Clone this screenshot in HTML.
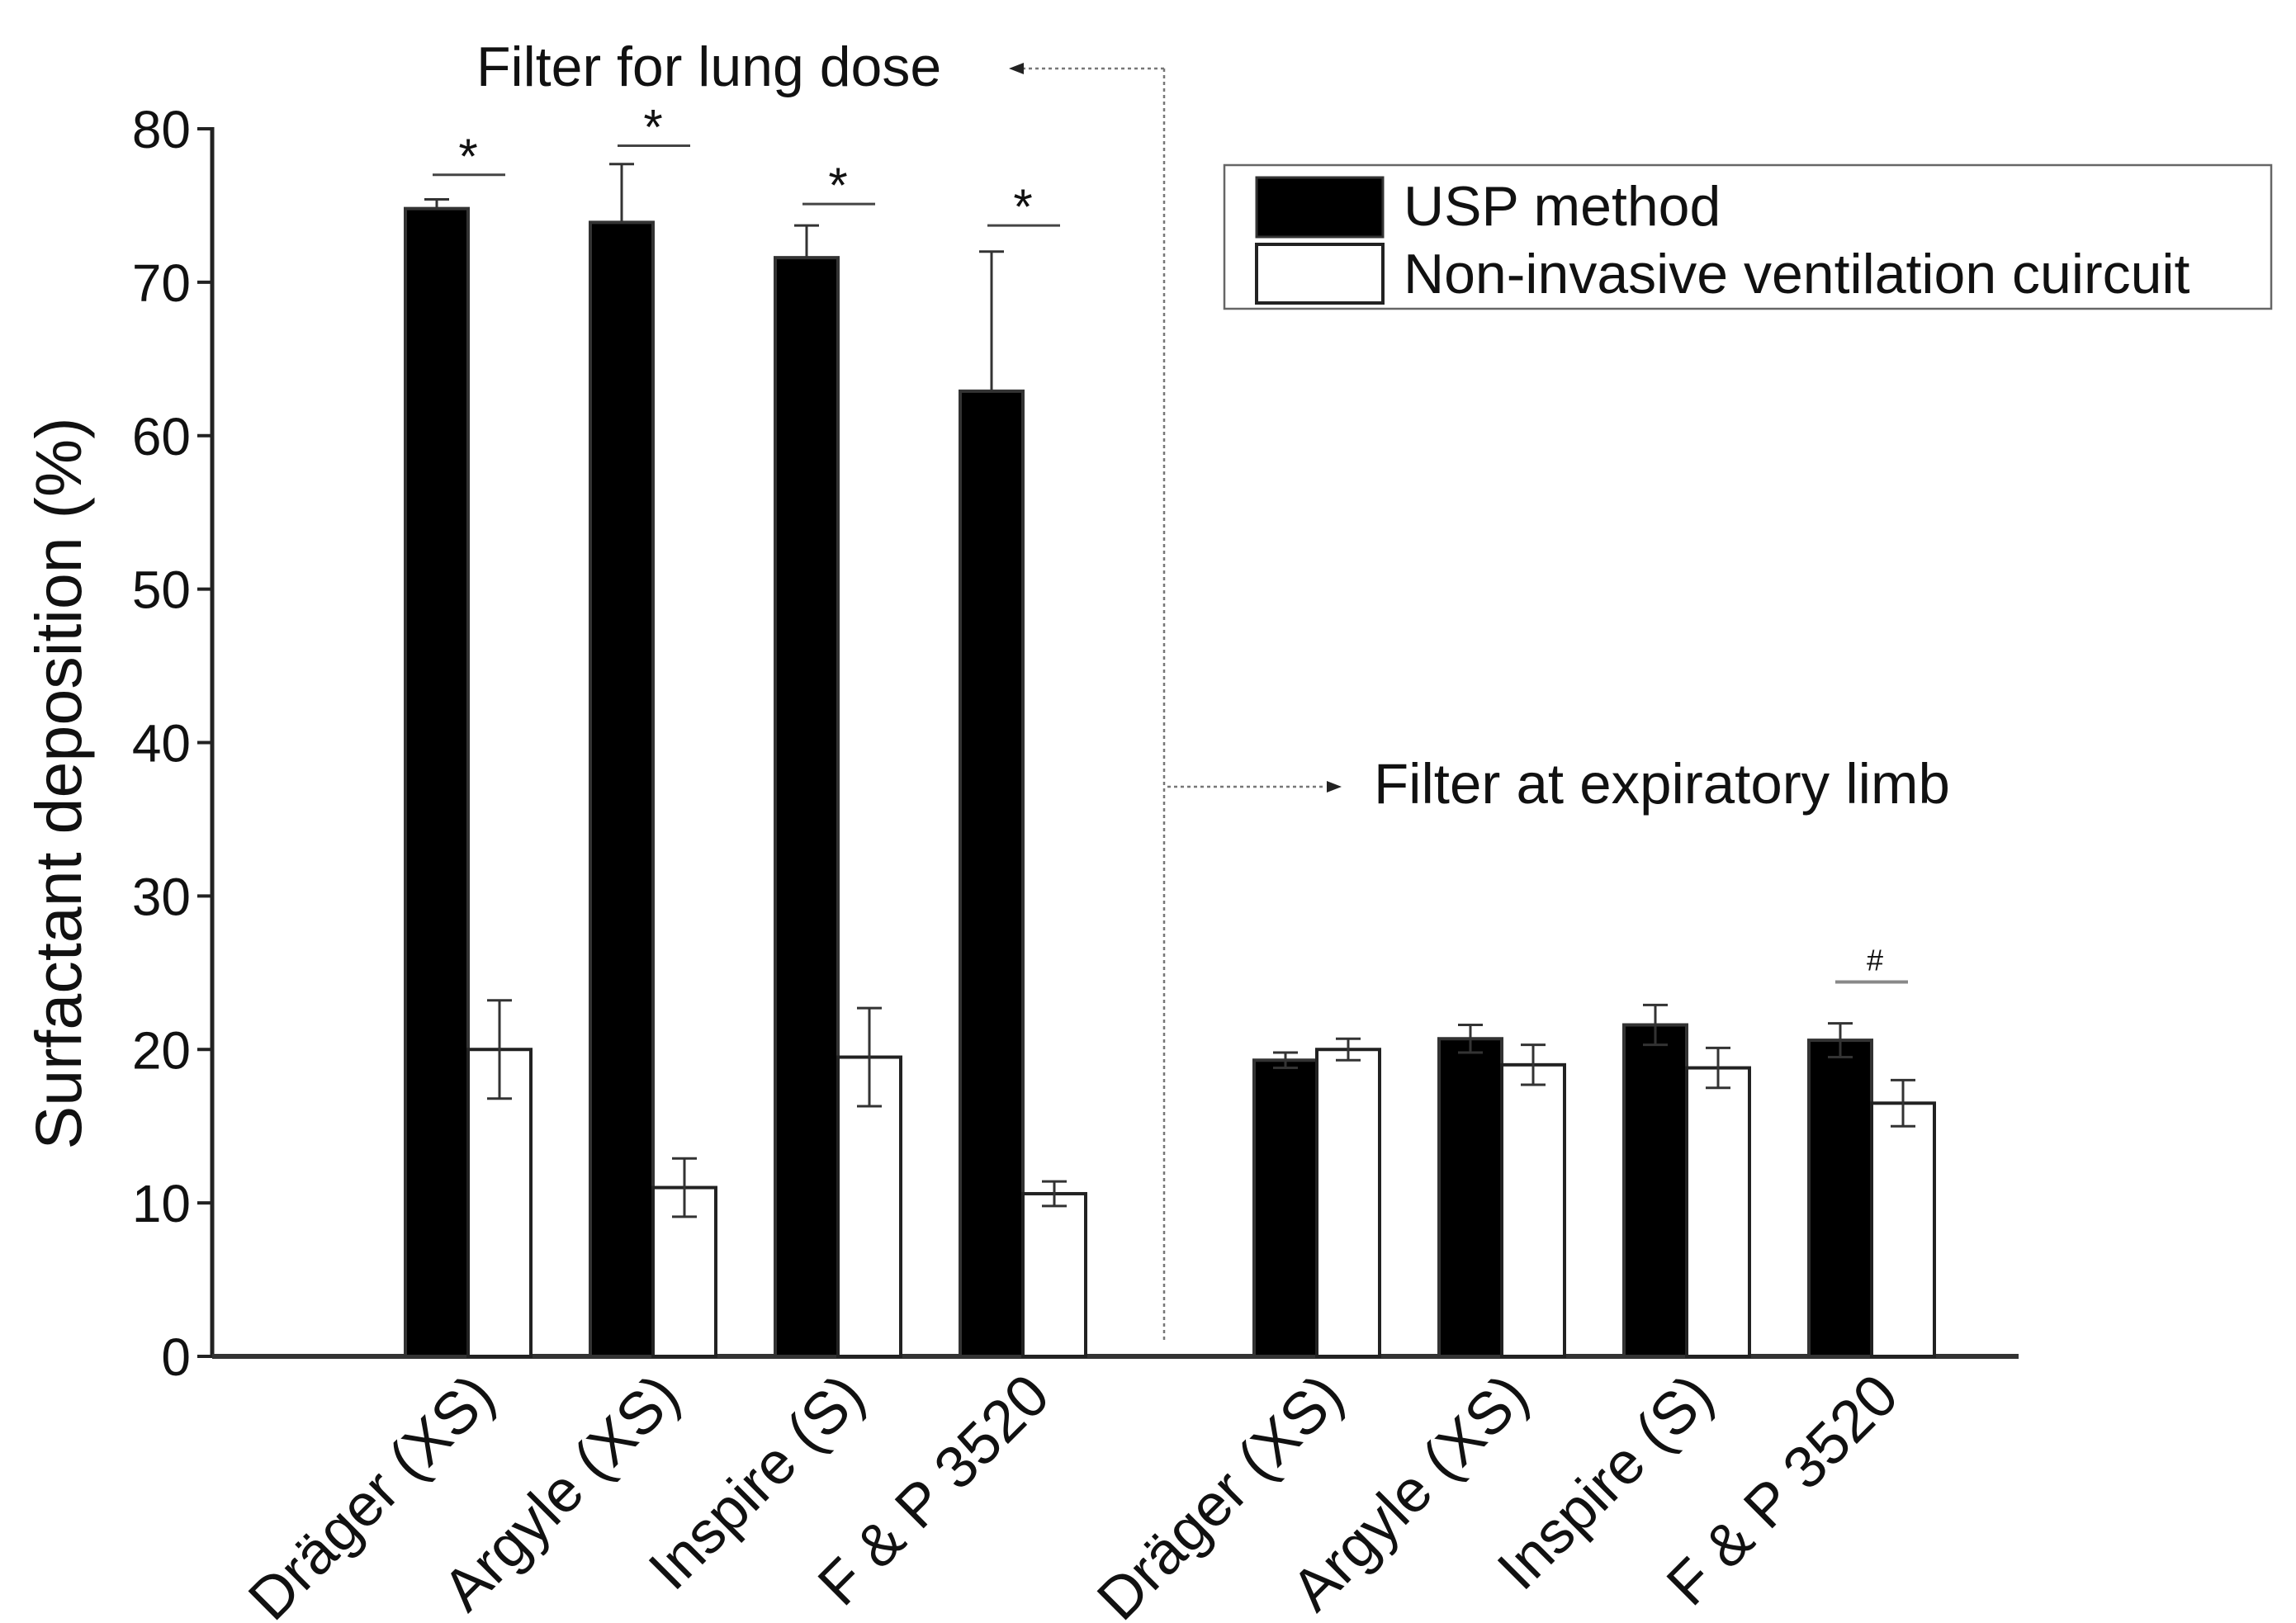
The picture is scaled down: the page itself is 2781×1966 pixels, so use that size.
<!DOCTYPE html>
<html><head><meta charset="utf-8"><style>
html,body{margin:0;padding:0;background:#fff;}
svg{display:block;font-family:"Liberation Sans",Arial,sans-serif;}
</style></head><body>
<svg id="chart" width="2781" height="1966" viewBox="0 0 2781 1966"></svg>
<script>
const categories = ["Dräger (XS)","Argyle (XS)","Inspire (S)","F & P 3520"];
const lungUsp = [74.8,73.9,71.6,62.9];
const lungUspErr = [0.6,3.8,2.1,9.1];
const lungNiv = [20.0,11.0,19.5,10.6];
const lungNivErr = [3.2,1.9,3.2,0.8];
const expUsp = [19.3,20.7,21.6,20.6];
const expUspErr = [0.5,0.9,1.3,1.1];
const expNiv = [20.0,19.0,18.8,16.5];
const expNivErr = [0.7,1.3,1.3,1.5];
const yTicks = [0,10,20,30,40,50,60,70,80];
const lungSigY = [77.0,78.9,75.1,73.7];
const expSig = [false,false,false,true];

const NS="http://www.w3.org/2000/svg";
const svg=document.getElementById('chart');
const X0=257, Y0=1643, YT=156, XEND=2445;
const y=v=>Y0-(v/80)*(Y0-YT);
const groupCenter=(g,i)=>(g===0?567:1595)+i*224;
const BW=76;
function mk(tag,attrs,parent){const e=document.createElementNS(NS,tag);for(const k in attrs)e.setAttribute(k,attrs[k]);(parent||svg).appendChild(e);return e;}

let e=mk('line',{x1:X0,y1:YT-2,x2:X0,y2:Y0,stroke:'#222','stroke-width':5});


e=mk('line',{x1:X0,y1:Y0,x2:XEND,y2:Y0,stroke:'#333','stroke-width':6});


yTicks.forEach(t=>{
  let l=mk('line',{x1:X0-18,y1:y(t),x2:X0,y2:y(t),stroke:'#222','stroke-width':4});
  
  
  let tx=mk('text',{x:X0-26,y:y(t)+23,'text-anchor':'end','font-size':64,fill:'#111'});
  tx.textContent=t;
  
  
});
e=mk('text',{x:0,y:0,'text-anchor':'middle','font-size':79,fill:'#111',transform:'translate(98,949) rotate(-90)'});
e.textContent='Surfactant deposition (%)';



function bar(cx,left,v,err,fill,name,lowerErr){
  const x=left?cx-BW:cx;
  let r=mk('rect',{x:x,y:y(v),width:BW,height:Y0-y(v),fill:fill,stroke:fill==='#000'?'#333':'#222','stroke-width':4});
  
  
  const bx=x+BW/2;
  const lo=lowerErr?v-err:v;
  let l=mk('line',{x1:bx,y1:y(v+err),x2:bx,y2:y(lo),stroke:'#333','stroke-width':3});
  
  
  let c=mk('line',{x1:bx-15,y1:y(v+err),x2:bx+15,y2:y(v+err),stroke:'#333','stroke-width':3});
  
  
  if(lowerErr){
    let c2=mk('line',{x1:bx-15,y1:y(v-err),x2:bx+15,y2:y(v-err),stroke:'#333','stroke-width':3});
    
    
  }
}
function label(cx,txt){
  let t=mk('text',{x:0,y:0,'text-anchor':'end','font-size':72,fill:'#111',transform:`translate(${cx+36},${Y0+52}) rotate(-45)`});
  t.textContent=txt;
  
  
}
categories.forEach((c,i)=>{
  const cx=groupCenter(0,i);
  bar(cx,true,lungUsp[i],lungUspErr[i],'#000','bar-lung-usp',false);
  bar(cx,false,lungNiv[i],lungNivErr[i],'#fff','bar-lung-niv',true);
  label(cx,c);
  let s=mk('line',{x1:cx-43,y1:y(lungSigY[i]),x2:cx+45,y2:y(lungSigY[i]),stroke:'#444','stroke-width':3});
  
  
  let st=mk('text',{x:cx,y:y(lungSigY[i])-2,'text-anchor':'middle','font-size':60,fill:'#111'});
  st.textContent='*';
  
  

  const cx2=groupCenter(1,i);
  bar(cx2,true,expUsp[i],expUspErr[i],'#000','bar-exp-usp',true);
  bar(cx2,false,expNiv[i],expNivErr[i],'#fff','bar-exp-niv',true);
  label(cx2,c);
  if(expSig[i]){
    const top=Math.max(expUsp[i]+expUspErr[i],expNiv[i]+expNivErr[i])+2.7;
    let s2=mk('line',{x1:cx2-44,y1:y(top),x2:cx2+44,y2:y(top),stroke:'#888','stroke-width':4});
    
    
    let h=mk('text',{x:cx2+4,y:y(top)-14,'text-anchor':'middle','font-size':36,fill:'#111'});
    h.textContent='#';
    
    
  }
});
</script>
<svg width="2781" height="1966" style="position:absolute;left:0;top:0">
  <g stroke="#777" stroke-width="2.5" stroke-dasharray="4,4" fill="none">
    <line x1="1410" y1="83" x2="1410" y2="1623"/>
    <line x1="1410" y1="83" x2="1240" y2="83"/>
    <line x1="1414" y1="953" x2="1605" y2="953"/>
  </g>
  <polygon points="1222,83 1240,76 1240,90" fill="#222"/>
  <polygon points="1625,953 1607,946 1607,960" fill="#222"/>
  <text x="577" y="104" font-size="68" fill="#111" font-family="Liberation Sans, sans-serif">Filter for lung dose</text>
  <text x="1664" y="973" font-size="69" fill="#111" font-family="Liberation Sans, sans-serif">Filter at expiratory limb</text>
  <g>
    <rect x="1483" y="200" width="1268" height="174" fill="#fff" stroke="#666" stroke-width="2.5"/>
    <rect x="1522" y="215" width="153" height="72" fill="#000" stroke="#333" stroke-width="3"/>
    <rect x="1522" y="296" width="153" height="71" fill="#fff" stroke="#222" stroke-width="4"/>
    <text x="1700" y="273" font-size="68" fill="#111" font-family="Liberation Sans, sans-serif">USP method</text>
    <text x="1700" y="355" font-size="68" fill="#111" font-family="Liberation Sans, sans-serif">Non-invasive ventilation cuircuit</text>
  </g>
</svg>
</body></html>
